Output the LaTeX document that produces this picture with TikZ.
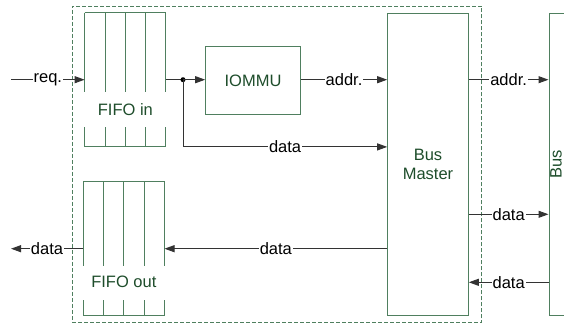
\documentclass[tikz,border=0pt]{standalone}
\usepackage{fontspec}
\setmainfont{Liberation Sans}
\usetikzlibrary{arrows.meta}
\definecolor{boxgreen}{HTML}{4F7F5F}
\definecolor{txtgreen}{HTML}{1E4D2B}
\definecolor{linegray}{HTML}{333333}
\begin{document}
\begin{tikzpicture}[x=1pt,y=-1pt,
  font=\fontsize{16.5}{19.5}\selectfont,
  box/.style={draw=boxgreen, line width=1pt, text=txtgreen, inner sep=0pt},
  fifo/.style={minimum width=81pt, minimum height=134pt, inner sep=0pt},
  fifoline/.style={draw=boxgreen, line width=1pt},
  greentxt/.style={text=txtgreen, inner sep=0pt},
  plain/.style={draw=linegray, line width=1pt},
  conn/.style={draw=linegray, line width=1pt, -{Triangle[length=10pt,width=7pt]}},
  lbl/.style={fill=white, inner sep=1pt, text=black}]
\useasboundingbox (0,0) rectangle (564,324);
% system boundary
\node[draw=boxgreen, line width=0.9pt, dash pattern=on 4pt off 2pt, minimum width=409.7pt, minimum height=316.7pt, inner sep=0pt] (sys) at (276.85,164.35) {};
% boxes
\node[box, minimum width=94.6pt, minimum height=67.3pt] (iommu) at (253,80.35) {IOMMU};
\node[box, minimum width=80.6pt, minimum height=302.4pt, align=center] (bm) at (428,164.5) {Bus\\Master};
\node[box, minimum width=30pt, minimum height=302.4pt] (bus) at (564,164.5) {};
\node[greentxt, rotate=90] (buslbl) at (556,164.5) {Bus};
% FIFO in
\node[fifo] (fin) at (125.35,79.7) {};
\draw[fifoline] (fin.north west) -- (fin.north east);
\draw[fifoline] (fin.south west) -- (fin.south east);
\foreach \x in {84.85,105.1,125.35,145.6,165.85}{
  \draw[fifoline] (\x,12.7) -- (\x,92);
  \draw[fifoline] (\x,127) -- (\x,146.7);
}
\node[greentxt] (finlbl) at (125.35,110) {FIFO in};
% FIFO out
\node[fifo] (fout) at (123.8,248.7) {};
\draw[fifoline] (fout.north west) -- (fout.north east);
\draw[fifoline] (fout.south west) -- (fout.south east);
\foreach \x in {83.3,103.55,123.8,144.05,164.3}{
  \draw[fifoline] (\x,181.7) -- (\x,265.7);
  \draw[fifoline] (\x,300) -- (\x,315.7);
}
\node[greentxt] (foutlbl) at (123.8,282) {FIFO out};
% connectors
\coordinate (reqin) at (11,79.7);
\draw[conn] (reqin) -- (fin.west) node[lbl,midway]{req.};
\coordinate (split) at (183,79.7);
\draw[plain] (fin.east) -- (split);
\fill[black] (split) circle (2.5pt);
\draw[conn] (split) -- (iommu.west |- split);
\draw[conn] (iommu.east |- split) -- (bm.west |- split) node[lbl,midway]{addr.};
\draw[conn] (split) |- (bm.west |- fin.south) node[lbl,pos=0.75]{data};
\draw[conn] (bm.east |- split) -- (bus.west |- split) node[lbl,midway]{addr.};
\coordinate (dout) at (468.3,214.3);
\draw[conn] (bm.east |- dout) -- (bus.west |- dout) node[lbl,midway]{data};
\coordinate (din) at (468.3,282.3);
\draw[conn] (bus.west |- din) -- (bm.east |- din) node[lbl,midway]{data};
\draw[conn] (bm.west |- fout.east) -- (fout.east) node[lbl,midway]{data};
\coordinate (dataout) at (11,248.7);
\draw[conn] (fout.west) -- (dataout) node[lbl,midway]{data};
\end{tikzpicture}
\end{document}
